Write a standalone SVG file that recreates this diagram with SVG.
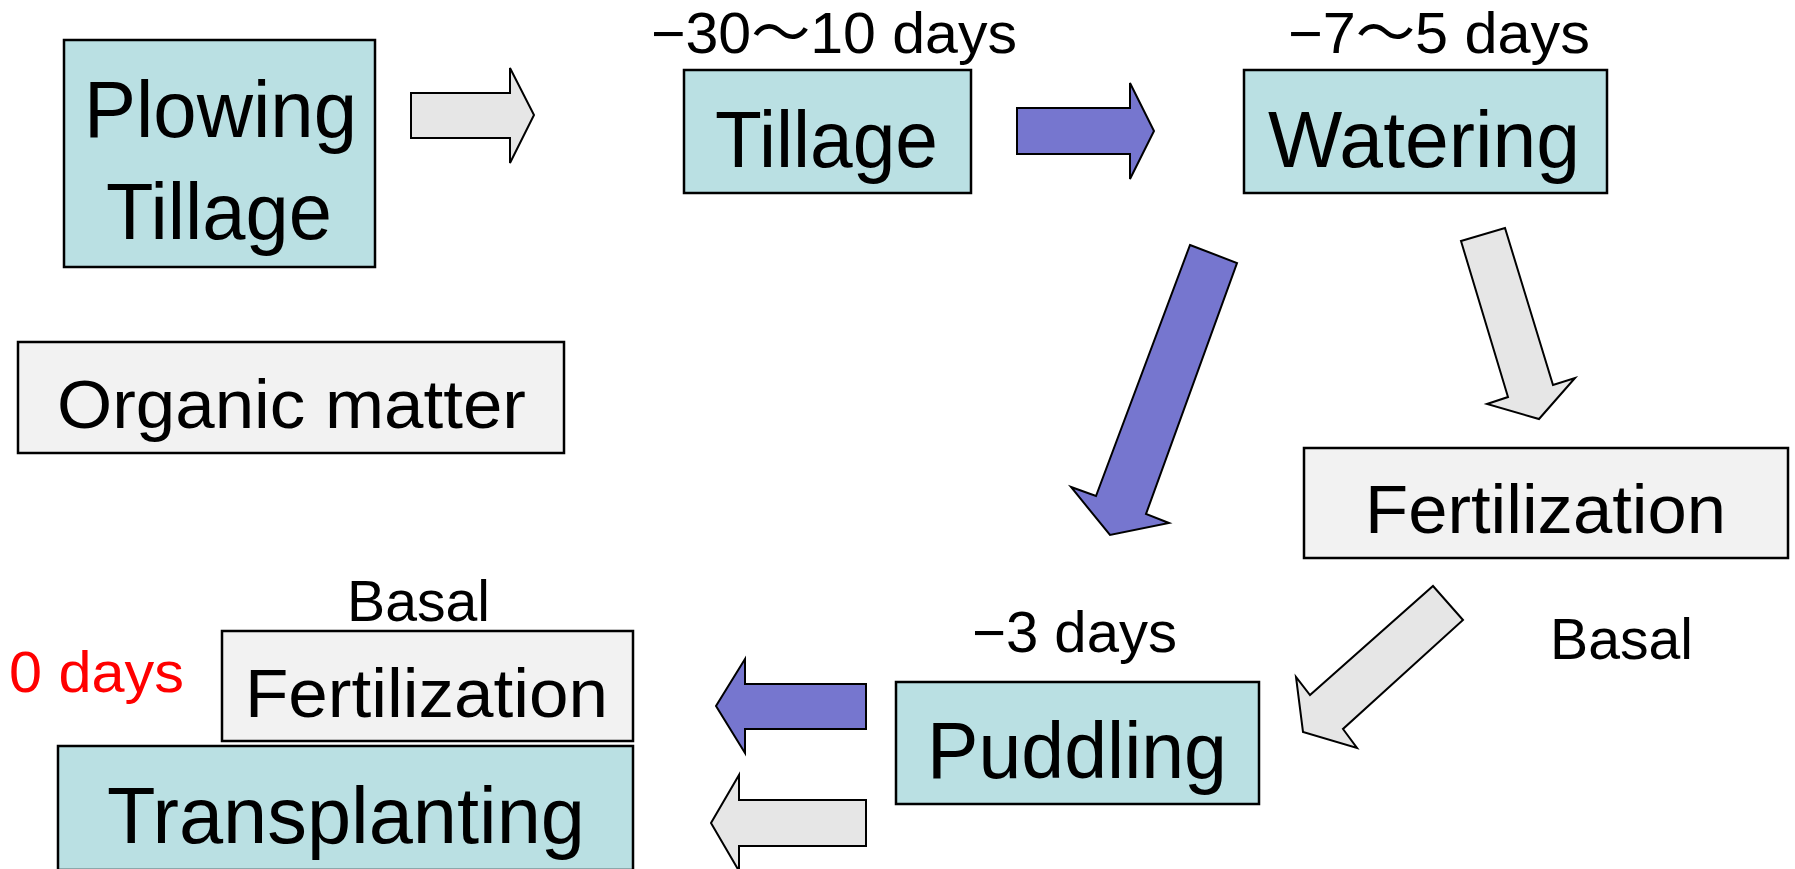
<svg xmlns="http://www.w3.org/2000/svg" width="1795" height="869" viewBox="0 0 1795 869">
<style>
.tb{fill:#BAE0E3;stroke:#000;stroke-width:2.5}
.gb{fill:#F2F2F2;stroke:#000;stroke-width:2.5}
.ga{fill:#E6E6E6;stroke:#000;stroke-width:2;stroke-linejoin:miter}
.ba{fill:#7676CF;stroke:#000;stroke-width:2;stroke-linejoin:miter}
text{font-family:"Liberation Sans","Noto Sans CJK JP",sans-serif;fill:#000}
.big{font-size:79px}
.mid{font-size:69px}
.sm{font-size:57px}
</style>
<rect width="1795" height="869" fill="#fff"/>
<g id="connectors">
<polygon class="ga" points="411,93 510,93 510,68 534,115 510,163 510,138 411,138"/>
<polygon class="ba" points="1017,108 1130,108 1130,83 1154,131 1130,179 1130,154 1017,154"/>
<polygon class="ba" points="1190,245 1237,263 1146,514 1169,523 1110,535 1071,487 1096,496"/>
<polygon class="ga" points="1461,241 1505,228 1553,385 1575,378 1539,419 1487,404 1508,397"/>
<polygon class="ga" points="1433,586 1463,620 1343,729 1357,748 1303,732 1296,677 1310,695"/>
<polygon class="ba" points="866,684 745,684 745,659 716,706 745,753 745,729 866,729"/>
<polygon class="ga" points="866,800 739,800 739,775 711,823 739,871 739,846 866,846"/>
</g>
<g id="plowing">
<rect class="tb" x="64" y="40" width="311" height="227"/>
<text class="big" x="84" y="137" textLength="273" lengthAdjust="spacingAndGlyphs">Plowing</text>
<text class="big" x="106" y="239" textLength="226" lengthAdjust="spacingAndGlyphs">Tillage</text>
</g>
<g id="tillage">
<text class="sm" x="651" y="53" textLength="366" lengthAdjust="spacingAndGlyphs">−30〜10 days</text>
<rect class="tb" x="684" y="70" width="287" height="123"/>
<text class="big" x="715" y="167" textLength="223" lengthAdjust="spacingAndGlyphs">Tillage</text>
</g>
<g id="watering">
<text class="sm" x="1288" y="53" textLength="302" lengthAdjust="spacingAndGlyphs">−7〜5 days</text>
<rect class="tb" x="1244" y="70" width="363" height="123"/>
<text class="big" x="1268" y="167" textLength="312" lengthAdjust="spacingAndGlyphs">Watering</text>
</g>
<g id="organic">
<rect class="gb" x="18" y="342" width="546" height="111"/>
<text class="mid" x="57" y="428" textLength="469" lengthAdjust="spacingAndGlyphs">Organic matter</text>
</g>
<g id="fert-right">
<rect class="gb" x="1304" y="448" width="484" height="110"/>
<text class="mid" x="1365" y="533" textLength="361" lengthAdjust="spacingAndGlyphs">Fertilization</text>
</g>
<g id="basal-right">
<text class="sm" x="1550" y="659" textLength="143" lengthAdjust="spacingAndGlyphs">Basal</text>
</g>
<g id="puddling">
<text class="sm" x="972" y="652" textLength="205" lengthAdjust="spacingAndGlyphs">−3 days</text>
<rect class="tb" x="896" y="682" width="363" height="122"/>
<text class="big" x="927" y="778" textLength="300" lengthAdjust="spacingAndGlyphs">Puddling</text>
</g>
<g id="fert-left">
<text class="sm" x="347" y="621" textLength="143" lengthAdjust="spacingAndGlyphs">Basal</text>
<text class="sm" x="9" y="692" textLength="175" lengthAdjust="spacingAndGlyphs" style="fill:#FF0000">0 days</text>
<rect class="gb" x="222" y="631" width="411" height="110"/>
<text class="mid" x="245" y="717" textLength="363" lengthAdjust="spacingAndGlyphs">Fertilization</text>
</g>
<g id="transplanting">
<rect class="tb" x="58" y="746" width="575" height="124"/>
<text class="big" x="107" y="843" textLength="478" lengthAdjust="spacingAndGlyphs">Transplanting</text>
</g>
</svg>
